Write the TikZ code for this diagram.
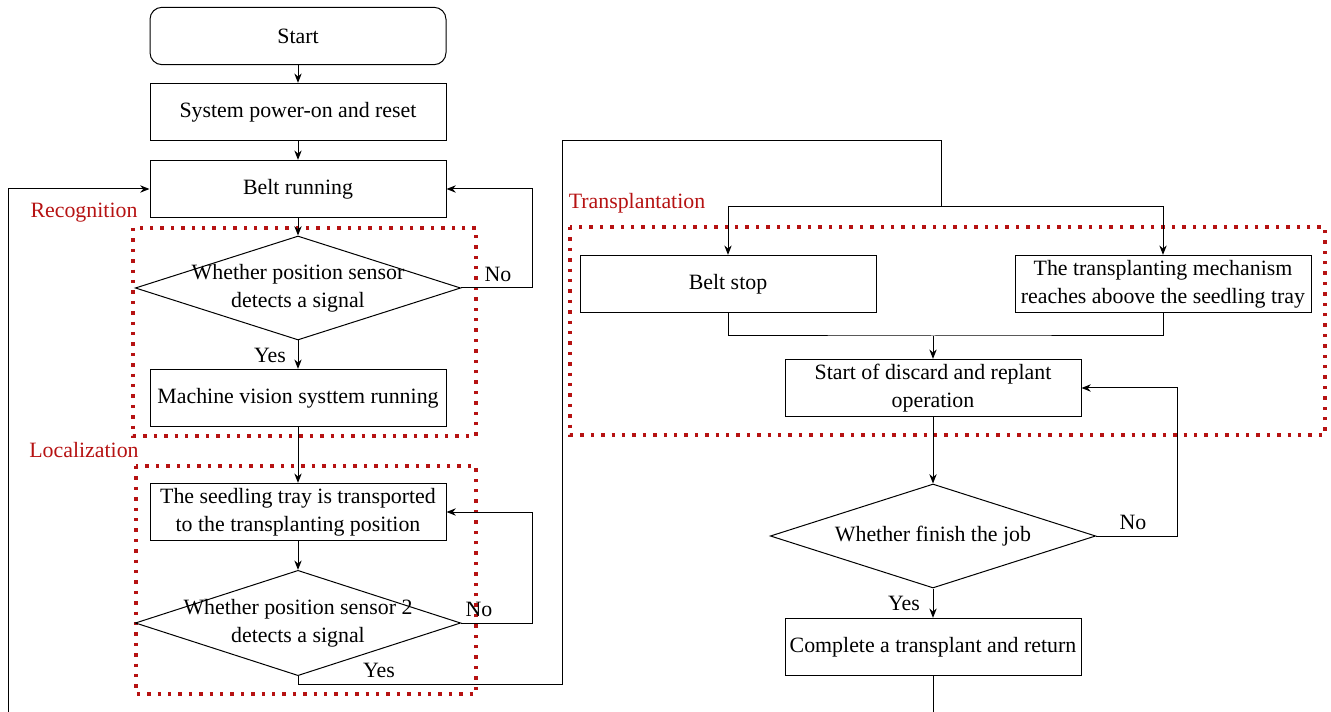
\documentclass[tikz,border=0pt]{standalone}
\usepackage{fontspec}
\setmainfont{Liberation Serif}
\usepackage{tikz}
\usetikzlibrary{shapes.geometric,arrows.meta}

\definecolor{zonered}{RGB}{182,18,18}

\tikzset{
  every node/.style={font=\fontsize{16.4}{21}\selectfont},
  proc/.style={draw, line width=0.75pt, minimum width=222pt, minimum height=43pt, inner sep=2pt, align=center},
  startbox/.style={proc, rounded corners=9pt},
  decide/.style={draw, line width=0.75pt, diamond, minimum width=244pt, minimum height=78pt, inner sep=0pt},
  zone/.style={draw=zonered, line width=2.6pt, dash pattern=on 2.6pt off 5.2pt},
  zonelabel/.style={text=zonered},
  flow/.style={line width=0.75pt, -{Stealth[length=7pt,width=5.5pt]}},
  link/.style={line width=0.75pt},
}

\begin{document}
\begin{tikzpicture}[x=0.75pt,y=0.75pt,yscale=-1,xscale=1]
\useasboundingbox (0,0) rectangle (1331,712);
\clip (0,0) rectangle (1331,712);

%Dotted zones
\draw [zone] (133,228) rectangle (476,436);
\draw [zone] (136,466) rectangle (476,694);
\draw [zone] (570,227) rectangle (1325,435);

% Zone labels
\node [zonelabel] (reclabel) at (84,213) {Recognition};
\node [zonelabel] (loclabel) at (84,450) {Localization};
\node [zonelabel] (tralabel) at (637,203) {Transplantation};

% Left column
\node [startbox] (start) at (298,36) {Start};
\node [proc] (power) at (298,112) {System power-on and reset};
\node [proc] (belt) at (298,189) {Belt running};
\node [decide, label={[align=center]center:Whether position sensor\\detects a signal}] (ask1) at (298,288) {};
\node [proc] (vision) at (298,398) {Machine vision systtem running};
\node [proc] (tray) at (298,512) {The seedling tray is transported\\to the transplanting position};
\node [decide, minimum height=79pt, label={[align=center]center:Whether position sensor 2\\detects a signal}] (ask2) at (298,623) {};

% Right column
\node [proc] (stop) at (728,284) {Belt stop};
\node [proc] (mech) at (1163,284) {The transplanting mechanism\\reaches aboove the seedling tray};
\node [proc] (discard) at (933,388) {Start of discard and replant\\operation};
\node [decide, label={center:Whether finish the job}] (ask3) at (933,536) {};
\node [proc] (done) at (933,647) {Complete a transplant and return};

% Branch labels
\node (no1) at (498,274) {No};
\node (yes1) at (270,355) {Yes};
\node (no2) at (479,609) {No};
\node (yes2) at (379,670) {Yes};
\node (no3) at (1133,522) {No};
\node (yes3) at (904,603) {Yes};

% Helper points
\coordinate (ret) at (941,141);
\coordinate (split) at (941,207);
\coordinate (merge) at (933,336);
\coordinate (back) at (8,730);

%Straight Lines
\draw [flow] (start) -- (power);
\draw [flow] (power) -- (belt);
\draw [flow] (belt) -- (ask1);
\draw [flow] (ask1) -- (vision);
\draw [flow] (vision) -- (tray);
\draw [flow] (tray) -- (ask2);
\draw [flow] (ask1.east) -- ++(71,0) |- (belt.east);
\draw [flow] (ask2.east) -- ++(71,0) |- (tray.east);

% Yes of sensor 2 to the transplanting part
\draw [link] (ask2.south) |- (562,684) |- (ret) -- (split);
\draw [flow] (split) -| (stop.north);
\draw [flow] (split) -| (mech.north);
\draw [link] (stop.south) |- (merge) -| (mech.south);
\draw [flow] (merge) -- (discard.north);
\draw [flow] (discard) -- (ask3);
\draw [flow] (ask3.east) -- ++(81,0) |- (discard.east);
\draw [flow] (ask3) -- (done);

% Return to the belt
\draw [flow] (done.south) |- (back) |- (belt.west);

\end{tikzpicture}
\end{document}
